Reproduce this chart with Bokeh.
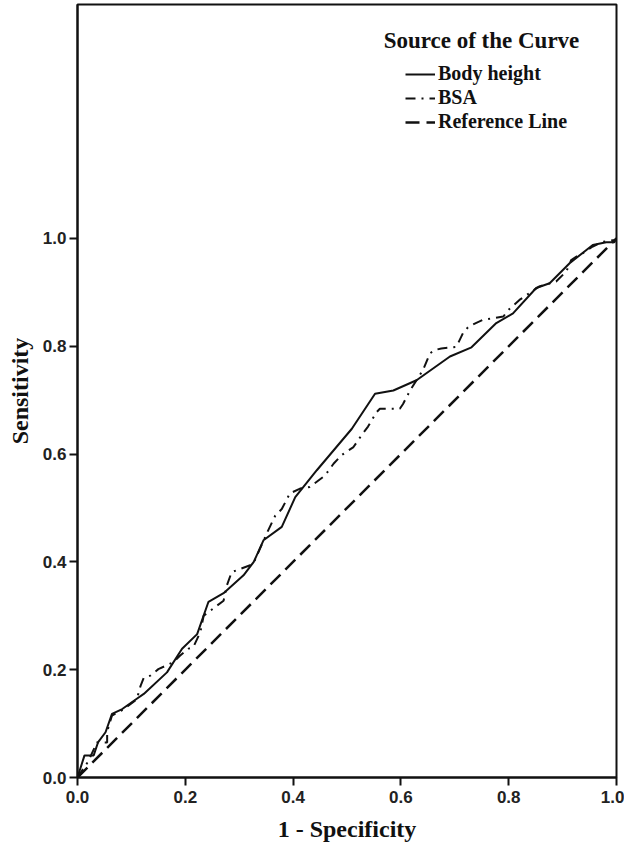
from bokeh.plotting import figure
from bokeh.models import Range1d, FixedTicker, Legend, LegendItem, Label, PrintfTickFormatter
from bokeh.embed import file_html
from bokeh.resources import INLINE

# ROC data (1 - specificity, sensitivity)
body_x = [0.0, 0.013, 0.030, 0.038, 0.052, 0.064, 0.083, 0.110, 0.123, 0.166, 0.194, 0.222, 0.243,
          0.271, 0.308, 0.327, 0.345, 0.379, 0.404, 0.444, 0.509, 0.552, 0.586, 0.629, 0.691,
          0.731, 0.777, 0.808, 0.851, 0.876, 0.913, 0.956, 0.981, 0.996, 1.0]
body_y = [0.0, 0.041, 0.041, 0.065, 0.084, 0.118, 0.127, 0.146, 0.155, 0.195, 0.239, 0.266, 0.326,
          0.342, 0.375, 0.400, 0.440, 0.465, 0.520, 0.570, 0.647, 0.712, 0.718, 0.737, 0.781,
          0.798, 0.843, 0.861, 0.908, 0.917, 0.954, 0.988, 0.993, 0.993, 1.0]

bsa_x = [0.0, 0.020, 0.036, 0.055, 0.055, 0.064, 0.083, 0.110, 0.117, 0.123, 0.135, 0.150, 0.178,
         0.190, 0.206, 0.215, 0.228, 0.234, 0.246, 0.271, 0.277, 0.286, 0.326, 0.333, 0.354,
         0.367, 0.379, 0.394, 0.413, 0.431, 0.459, 0.475, 0.490, 0.512, 0.527, 0.539, 0.555,
         0.561, 0.598, 0.604, 0.617, 0.629, 0.641, 0.654, 0.663, 0.675, 0.703, 0.715, 0.725,
         0.737, 0.752, 0.790, 0.799, 0.820, 0.842, 0.857, 0.888, 0.907, 0.916, 0.925, 0.938,
         0.956, 0.975, 0.997, 1.0]
bsa_y = [0.0, 0.030, 0.065, 0.065, 0.085, 0.115, 0.125, 0.145, 0.170, 0.185, 0.189, 0.201, 0.214,
         0.226, 0.239, 0.242, 0.270, 0.300, 0.309, 0.328, 0.356, 0.381, 0.396, 0.412, 0.459,
         0.486, 0.498, 0.527, 0.536, 0.539, 0.560, 0.582, 0.598, 0.613, 0.635, 0.651, 0.678,
         0.684, 0.684, 0.693, 0.718, 0.737, 0.756, 0.787, 0.793, 0.796, 0.799, 0.824, 0.836,
         0.842, 0.849, 0.855, 0.867, 0.886, 0.901, 0.911, 0.920, 0.939, 0.960, 0.966, 0.973,
         0.985, 0.994, 0.997, 1.0]

ref_x = [0.0, 1.0]
ref_y = [0.0, 1.0]

x_ticks = [0.0, 0.2, 0.4, 0.6, 0.8, 1.0]
y_ticks = [0.0, 0.2, 0.4, 0.6, 0.8, 1.0]

SERIF = "Liberation Serif"
SANS = "Liberation Sans"

p = figure(frame_width=539, frame_height=773, output_backend="svg", toolbar_location=None,
           x_range=Range1d(0, 1.0), y_range=Range1d(0, 1.434),
           min_border_left=77, min_border_right=8, min_border_top=4, min_border_bottom=66)
p.background_fill_color = "white"
p.border_fill_color = "white"
p.outline_line_color = "#111111"
p.outline_line_width = 2
p.xgrid.visible = False
p.ygrid.visible = False

for ax, ticks in ((p.xaxis[0], x_ticks), (p.yaxis[0], y_ticks)):
    ax.ticker = FixedTicker(ticks=ticks)
    ax.formatter = PrintfTickFormatter(format="%.1f")
    ax.minor_tick_line_color = None
    ax.major_tick_in = 0
    ax.major_tick_out = 8
    ax.major_tick_line_width = 2
    ax.axis_line_width = 2
    ax.axis_line_color = "#111111"
    ax.major_tick_line_color = "#111111"
    ax.major_label_text_font = SANS
    ax.major_label_text_font_style = "bold"
    ax.major_label_text_font_size = "17px"
    ax.major_label_text_color = "#222222"
    ax.axis_label_text_font = SERIF
    ax.axis_label_text_font_style = "bold"
    ax.axis_label_text_font_size = "24px"
    ax.axis_label_text_color = "#111111"

p.xaxis.axis_label = "1 - Specificity"
p.yaxis.axis_label = "Sensitivity"
p.xaxis.axis_label_standoff = 10
p.yaxis.axis_label_standoff = 7
p.xaxis.major_label_standoff = 5
p.yaxis.major_label_standoff = 3

r_ref = p.line(ref_x, ref_y, line_color="#111111", line_width=2.5, line_dash="14 7")
r_bsa = p.line(bsa_x, bsa_y, line_color="#111111", line_width=2, line_dash="10 6 2 6")
r_body = p.line(body_x, body_y, line_color="#111111", line_width=2)

legend = Legend(items=[LegendItem(label="Body height", renderers=[r_body]),
                       LegendItem(label="BSA", renderers=[r_bsa]),
                       LegendItem(label="Reference Line", renderers=[r_ref])],
                location=(328, 644))
legend.padding = 0
legend.margin = 0
legend.spacing = 1
legend.border_line_color = None
legend.background_fill_alpha = 0
legend.label_text_font = SERIF
legend.label_text_font_style = "bold"
legend.label_text_font_size = "20px"
legend.label_text_color = "#111111"
legend.glyph_width = 30
legend.glyph_height = 20
legend.label_height = 20
legend.label_standoff = 3
p.add_layout(legend)

title = Label(x=0.568, y=1.367, text="Source of the Curve", text_font=SERIF,
              text_font_style="bold", text_font_size="23px", text_color="#111111",
              text_baseline="middle", text_align="left")
p.add_layout(title)

open("out.html", "w").write(file_html(p, INLINE))
